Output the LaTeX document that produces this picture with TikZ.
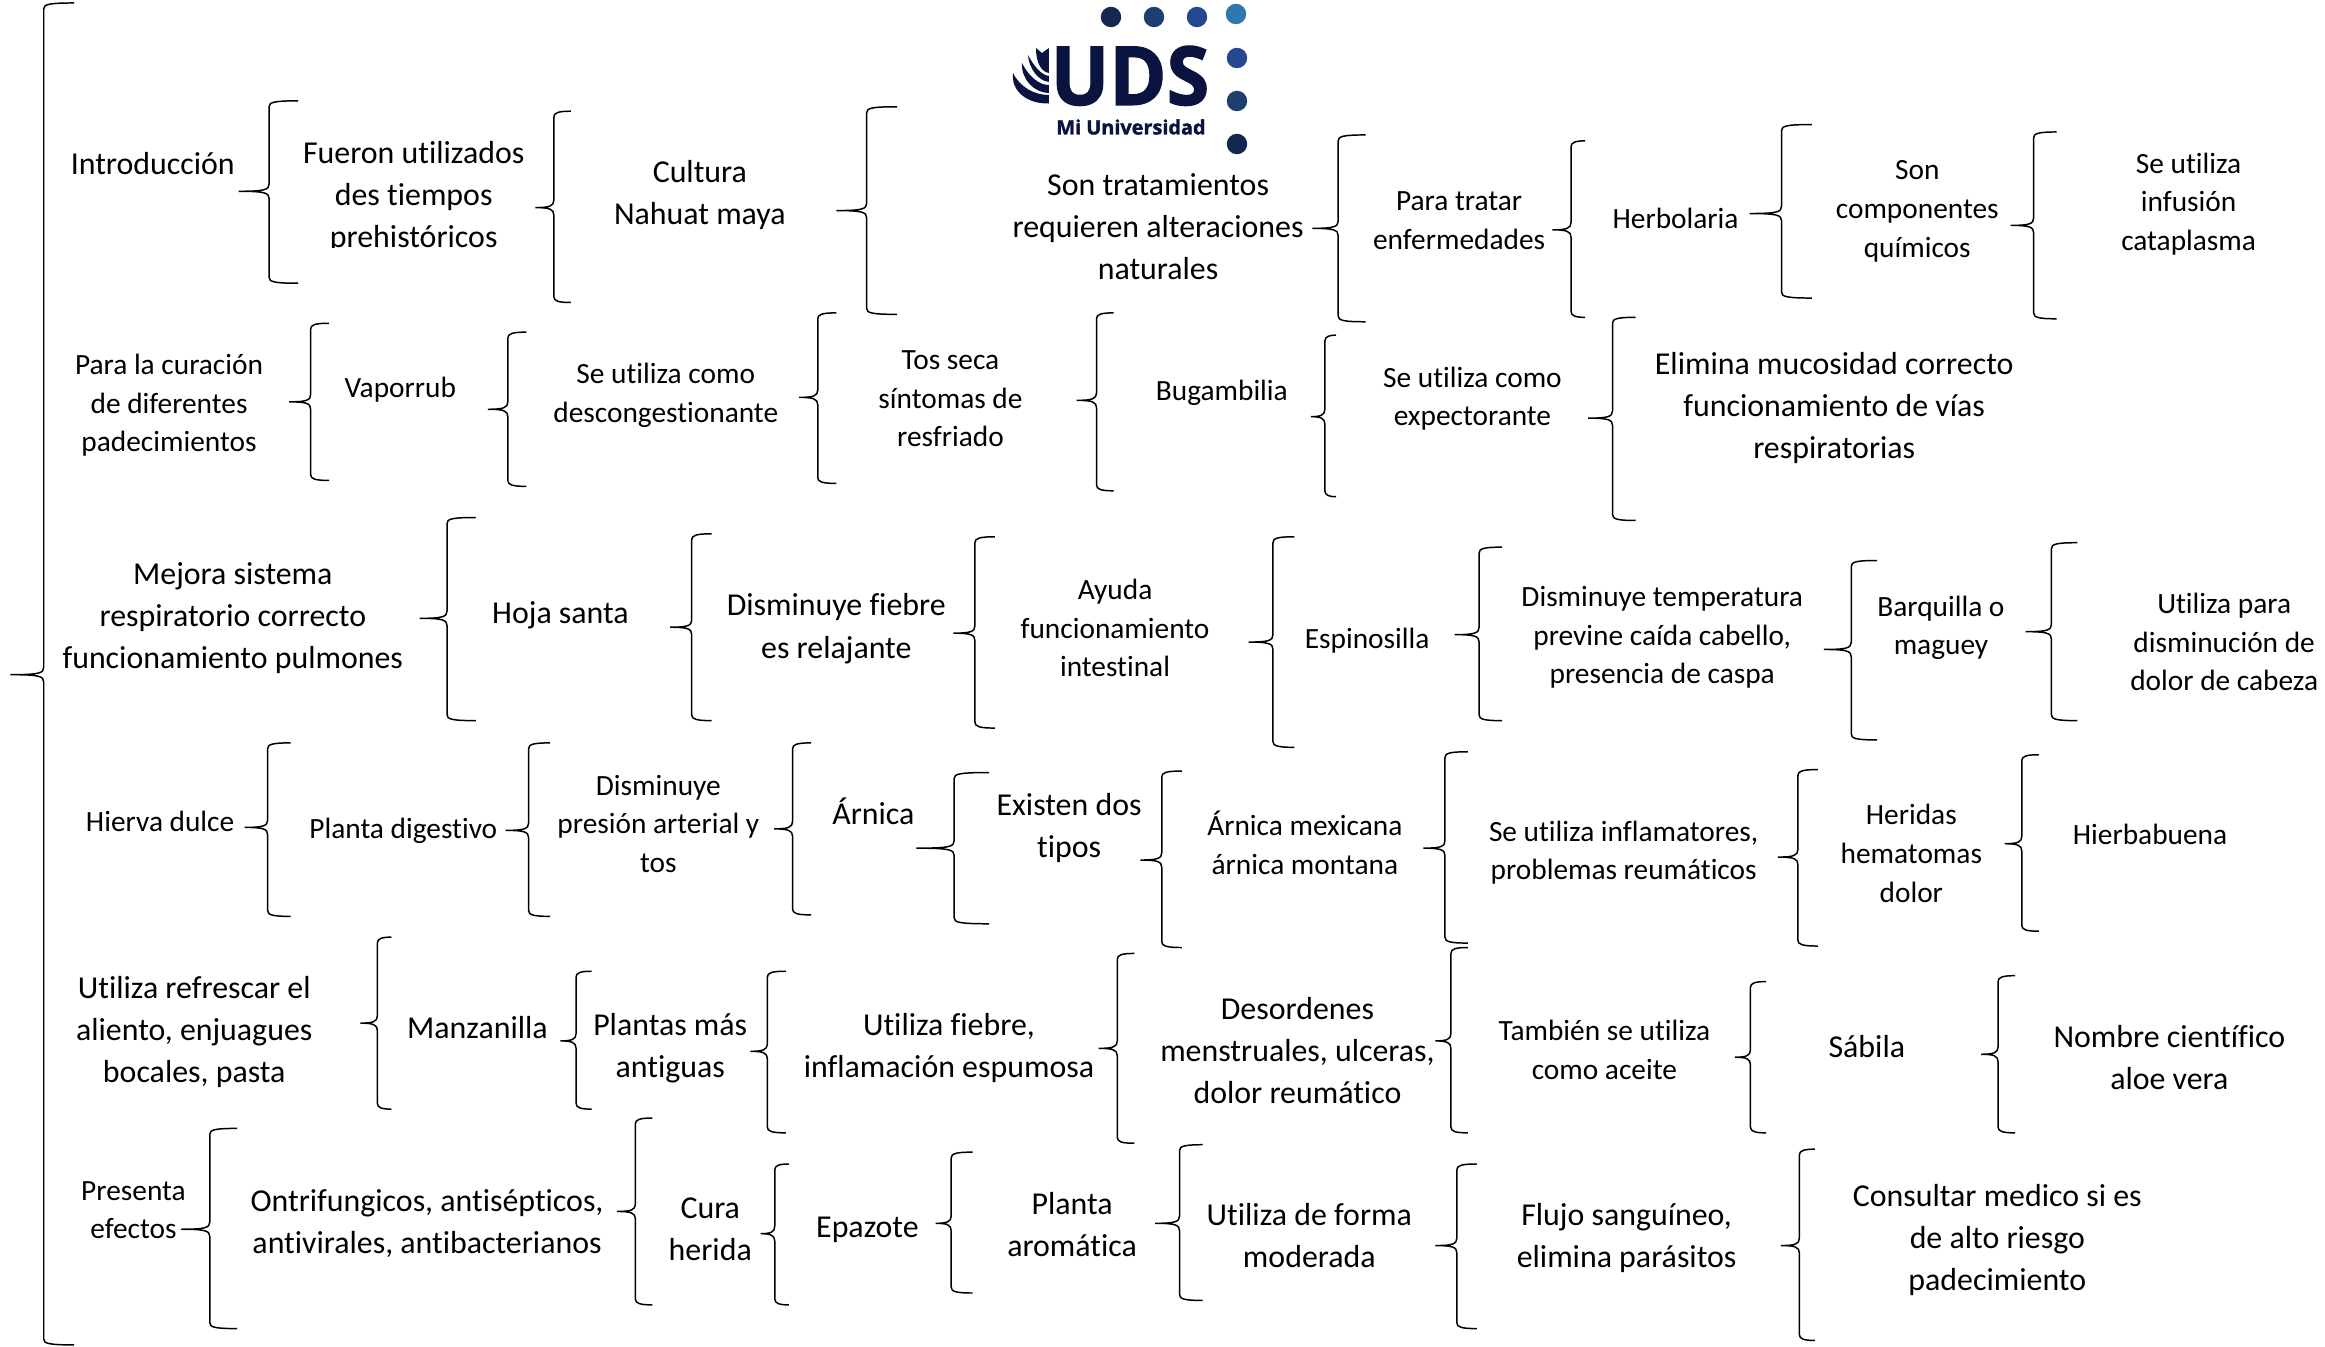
\documentclass[tikz,border=0pt]{standalone}
\usepackage{fontspec}
\setmainfont[Ligatures=CommonOff]{Carlito}
\newfontfamily\logofont[BoldFeatures={FakeBold=1.5}]{Open Sans}
\definecolor{ink}{HTML}{0B1340}
\definecolor{dA}{HTML}{14284F}
\definecolor{dB}{HTML}{1C3F70}
\definecolor{dC}{HTML}{24478F}
\definecolor{dD}{HTML}{2F78AE}
\newcommand{\brc}[6]{% spine, top, bottom, mid, tip, end
  \draw[brace] (#6,#2) .. controls (#1+3.5,#2) and (#1+.5,#2+1) .. (#1+.5,#2+4)
    -- (#1+.5,#4-5) .. controls (#1+.5,#4-1) and (#1-2.5,#4) .. (#5,#4)
    .. controls (#1-2.5,#4) and (#1+.5,#4+1) .. (#1+.5,#4+5)
    -- (#1+.5,#3-4) .. controls (#1+.5,#3-1) and (#1+3.5,#3) .. (#6,#3);}
\newcommand{\LT}[4]{\node[txt,font=\fontsize{21.5}{28.4}\selectfont] (#1) at (#2,#3) {#4};}
\newcommand{\ST}[4]{\node[txt,font=\fontsize{19.8}{26}\selectfont] (#1) at (#2,#3) {#4};}
\tikzset{
  brace/.style={draw=black,line width=1pt},
  txt/.style={align=center,inner sep=0pt,text=black},
  dot/.style={circle,inner sep=0pt,minimum size=13.8pt}
}
\begin{document}
\begin{tikzpicture}[x=1pt,y=-1pt]
\useasboundingbox (0,0) rectangle (1568,908.4);
\fill[white] (0,0) rectangle (1568,908.4);
% logo
\begin{scope}[x=0.6744pt,y=-0.6744pt]
 \node[dot,fill=dA] (d1) at (1111,17) {};
 \node[dot,fill=dB] (d2) at (1154,17) {};
 \node[dot,fill=dC] (d3) at (1197,17) {};
 \node[dot,fill=dD] (d4) at (1236,14) {};
 \node[dot,fill=dC] (d5) at (1237,58) {};
 \node[dot,fill=dB] (d6) at (1237,101) {};
 \node[dot,fill=dA] (d7) at (1237,144) {};
 \fill[ink] (1013,73) .. controls (1011,92) and (1028,104) .. (1049,103.5) -- (1049,95) .. controls (1034,95) and (1020,87) .. (1013,73) -- cycle;
 \fill[ink] (1022,63) .. controls (1021,80) and (1035,93) .. (1049,93) -- (1049,85) .. controls (1038,85) and (1028,75) .. (1022,63) -- cycle;
 \fill[ink] (1028,55) .. controls (1029,68) and (1038,81) .. (1049,82) -- (1049,76) .. controls (1041,75) and (1034,66) .. (1028,55) -- cycle;
 \fill[ink] (1036,48) -- (1042,53) -- (1049,48) -- (1049,73) .. controls (1042,72) and (1036,64) .. (1036,48) -- cycle;
 \node[inner sep=0pt,text=ink,xscale=.95,text height=39pt,text depth=0pt,font=\logofont\bfseries\fontsize{55}{55}\selectfont] (uds) at (1130,76) {UDS};
 \node[inner sep=0pt,text=ink,font=\logofont\bfseries\fontsize{13.4}{15}\selectfont] (mi) at (1131,127) {Mi Universidad};
\end{scope}
% main brace
\brc{29}{2}{907}{455}{7}{50}
% row 1
\LT{a1}{103}{110}{Introducción}
\brc{181}{68}{191}{129}{161}{201}
\LT{a2}{279}{133}{Fueron utilizados\\des tiempos\\prehistóricos}
\fill[white] (190,167.5) rectangle (360,175);
\brc{373}{75}{204}{140}{361}{385}
\LT{a3}{472}{131.5}{Cultura\\Nahuat maya}
\brc{584}{72}{212}{142}{564}{605}
\LT{a4}{781}{153}{Son tratamientos\\requieren alteraciones\\naturales}
\brc{902}{91}{217}{154}{885}{921}
\ST{a5}{984}{149}{Para tratar\\enfermedades}
\brc{1059}{95}{214}{155}{1047}{1069}
\ST{a6}{1130}{147}{Herbolaria}
\brc{1201}{84}{201}{144}{1180}{1222}
\ST{a7}{1293}{142.5}{Son\\componentes\\químicos}
\brc{1371}{89}{215}{152}{1356}{1387}
\ST{a8}{1476}{137.5}{Se utiliza\\infusión\\cataplasma}
% row 2
\ST{b1}{114}{273.5}{Para la curación\\de diferentes\\padecimientos}
\brc{209}{218}{324}{271}{195}{222}
\ST{b2}{270}{263}{Vaporrub}
\brc{342}{224}{328}{276}{329}{355}
\ST{b3}{449}{266.5}{Se utiliza como\\descongestionante}
\brc{551}{211}{326}{268}{539}{564}
\ST{b4}{641}{269}{Tos seca\\síntomas de\\resfriado}
\brc{739}{211}{331}{270}{726}{751}
\ST{b5}{824}{265}{Bugambilia}
\brc{893}{226}{335}{281}{884}{901}
\ST{b6}{993}{269}{Se utiliza como\\expectorante}
\brc{1087}{214}{351}{282}{1071}{1103}
\LT{b7}{1237}{275}{Elimina mucosidad correcto\\funcionamiento de vías\\respiratorias}
% row 3
\LT{c1}{157}{417}{Mejora sistema\\respiratorio correcto\\funcionamiento pulmones}
\brc{301}{349}{486}{417}{283}{321}
\LT{c2}{378}{415}{Hoja santa}
\brc{466}{360}{486}{423}{452}{480}
\LT{c3}{564}{424}{Disminuye fiebre\\es relajante}
\brc{657}{362}{491}{427}{643}{671}
\ST{c4}{752}{423.5}{Ayuda\\funcionamiento\\intestinal}
\brc{858}{362}{504}{433}{842}{873}
\ST{c5}{922}{432}{Espinosilla}
\brc{997}{369}{486}{428}{981}{1013}
\ST{c6}{1121}{430}{Disminuye temperatura\\previne caída cabello,\\presencia de caspa}
\brc{1248}{378}{499}{438}{1230}{1266}
\ST{c7}{1309}{423.5}{Barquilla o\\maguey}
\brc{1383}{366}{486}{426}{1366}{1401}
\ST{c8}{1500}{433}{Utiliza para\\disminución de\\dolor de cabeza}
% row 4
\ST{e1}{108}{554}{Hierva dulce}
\brc{180}{501}{618}{558}{165}{196}
\ST{e2}{272}{560}{Planta digestivo}
\brc{356}{501}{618}{560}{341}{371}
\ST{e3}{444}{555.5}{Disminuye\\presión arterial y\\tos}
\brc{534}{501}{617}{559}{522}{547}
\LT{e4}{589}{547}{Árnica}
\brc{643}{521}{623}{572}{618}{667}
\LT{e5}{721}{558.5}{Existen dos\\tipos}
\brc{783}{520}{639}{580}{769}{797}
\ST{e6}{880}{568.5}{Árnica mexicana\\árnica montana}
\brc{974}{507}{636}{572}{960}{990}
\ST{e7}{1095}{575}{Se utiliza inflamatores,\\problemas reumáticos}
\brc{1212}{519}{638}{578}{1199}{1226}
\ST{e8}{1289}{575.5}{Heridas\\hematomas\\dolor}
\brc{1363}{509}{628}{569}{1352}{1375}
\ST{e9}{1450}{563}{Hierbabuena}
% row 5
\LT{f1}{131}{696}{Utiliza refrescar el\\aliento, enjuagues\\bocales, pasta}
\brc{254}{632}{748}{690}{243}{264}
\LT{f2}{322}{693}{Manzanilla}
\brc{388}{655}{748}{702}{378}{399}
\LT{f3}{452}{707}{Plantas más\\antiguas}
\brc{517}{655}{764}{709}{506}{530}
\LT{f4}{640}{707}{Utiliza fiebre,\\inflamación espumosa}
\brc{753}{643}{771}{707}{741}{765}
\LT{f5}{875}{708.5}{Desordenes\\menstruales, ulceras,\\dolor reumático}
\brc{978}{639}{764}{702}{968}{990}
\ST{f6}{1082}{708}{También se utiliza\\como aceite}
\brc{1180}{662}{764}{713}{1170}{1191}
\LT{f7}{1259}{706}{Sábila}
\brc{1347}{658}{764}{711}{1336}{1359}
\LT{f8}{1463}{713}{Nombre científico\\aloe vera}
% row 6
\ST{g1}{90}{816}{Presenta\\efectos}
\brc{141}{761}{896}{829}{122}{160}
\LT{g2}{288}{825}{Ontrifungicos, antisépticos,\\antivirales, antibacterianos}
\brc{428}{754}{880}{817}{416}{440}
\LT{g3}{479}{829}{Cura\\herida}
\brc{522}{785}{880}{832}{513}{532}
\LT{g4}{585}{829.5}{Epazote}
\brc{641}{777}{872}{825}{631}{656}
\LT{g5}{723}{826}{Planta\\aromática}
\brc{795}{772}{877}{825}{779}{811}
\LT{g6}{883}{833.5}{Utiliza de forma\\moderada}
\brc{982}{785}{896}{840}{968}{996}
\LT{g7}{1097}{835}{Flujo sanguíneo,\\elimina parásitos}
\brc{1213}{775}{904}{840}{1201}{1224}
\LT{g8}{1347}{836.5}{Consultar medico si es\\de alto riesgo\\padecimiento}
\end{tikzpicture}
\end{document}
